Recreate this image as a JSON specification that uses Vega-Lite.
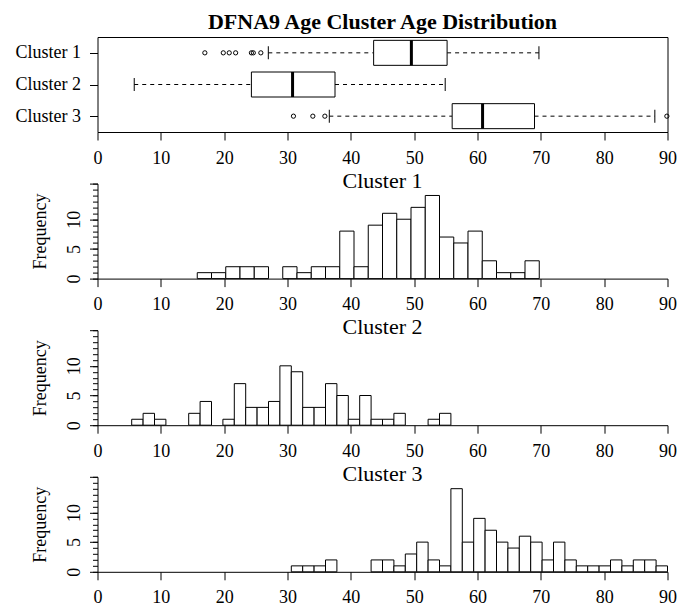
{
  "$schema": "https://vega.github.io/schema/vega-lite/v6.json",
  "padding": {"left": 14.5, "top": 10, "right": 5, "bottom": 5},
  "background": "white",
  "config": {
    "font": "Liberation Serif",
    "view": {"stroke": null},
    "axis": {"labelFont": "Liberation Serif", "titleFont": "Liberation Serif", "labelFontSize": 18, "titleFontSize": 18, "titleFontWeight": "normal", "labelColor": "black", "titleColor": "black", "domainColor": "black", "tickColor": "black", "grid": false, "tickSize": 8, "domainWidth": 1, "tickWidth": 1, "labelFlush": false, "labelOverlap": false},
    "title": {"font": "Liberation Serif", "fontSize": 22, "fontWeight": "normal", "color": "black", "anchor": "middle"}
  },
  "datasets": {
    "box": [
      {"cluster": "Cluster 1", "lo": 26.97, "q1": 43.6, "med": 49.56, "q3": 55.2, "hi": 69.7},
      {"cluster": "Cluster 2", "lo": 5.8, "q1": 24.3, "med": 30.8, "q3": 37.5, "hi": 54.9},
      {"cluster": "Cluster 3", "lo": 36.6, "q1": 56.0, "med": 60.8, "q3": 69.0, "hi": 88.0}
    ],
    "out": [
      {"cluster": "Cluster 1", "age": 16.95},
      {"cluster": "Cluster 1", "age": 19.86},
      {"cluster": "Cluster 1", "age": 20.8},
      {"cluster": "Cluster 1", "age": 21.81},
      {"cluster": "Cluster 1", "age": 24.3},
      {"cluster": "Cluster 1", "age": 24.6},
      {"cluster": "Cluster 1", "age": 25.79},
      {"cluster": "Cluster 3", "age": 30.94},
      {"cluster": "Cluster 3", "age": 34.0},
      {"cluster": "Cluster 3", "age": 35.9},
      {"cluster": "Cluster 3", "age": 89.9}
    ],
    "hist": [
      {"cluster": "Cluster 1", "start": 15.75, "end": 18.0, "count": 1},
      {"cluster": "Cluster 1", "start": 18.0, "end": 20.25, "count": 1},
      {"cluster": "Cluster 1", "start": 20.25, "end": 22.5, "count": 2},
      {"cluster": "Cluster 1", "start": 22.5, "end": 24.75, "count": 2},
      {"cluster": "Cluster 1", "start": 24.75, "end": 27.0, "count": 2},
      {"cluster": "Cluster 1", "start": 29.25, "end": 31.5, "count": 2},
      {"cluster": "Cluster 1", "start": 31.5, "end": 33.75, "count": 1},
      {"cluster": "Cluster 1", "start": 33.75, "end": 36.0, "count": 2},
      {"cluster": "Cluster 1", "start": 36.0, "end": 38.25, "count": 2},
      {"cluster": "Cluster 1", "start": 38.25, "end": 40.5, "count": 8},
      {"cluster": "Cluster 1", "start": 40.5, "end": 42.75, "count": 2},
      {"cluster": "Cluster 1", "start": 42.75, "end": 45.0, "count": 9},
      {"cluster": "Cluster 1", "start": 45.0, "end": 47.25, "count": 11},
      {"cluster": "Cluster 1", "start": 47.25, "end": 49.5, "count": 10},
      {"cluster": "Cluster 1", "start": 49.5, "end": 51.75, "count": 12},
      {"cluster": "Cluster 1", "start": 51.75, "end": 54.0, "count": 14},
      {"cluster": "Cluster 1", "start": 54.0, "end": 56.25, "count": 7},
      {"cluster": "Cluster 1", "start": 56.25, "end": 58.5, "count": 6},
      {"cluster": "Cluster 1", "start": 58.5, "end": 60.75, "count": 8},
      {"cluster": "Cluster 1", "start": 60.75, "end": 63.0, "count": 3},
      {"cluster": "Cluster 1", "start": 63.0, "end": 65.25, "count": 1},
      {"cluster": "Cluster 1", "start": 65.25, "end": 67.5, "count": 1},
      {"cluster": "Cluster 1", "start": 67.5, "end": 69.75, "count": 3},
      {"cluster": "Cluster 2", "start": 5.4, "end": 7.2, "count": 1},
      {"cluster": "Cluster 2", "start": 7.2, "end": 9.0, "count": 2},
      {"cluster": "Cluster 2", "start": 9.0, "end": 10.8, "count": 1},
      {"cluster": "Cluster 2", "start": 14.4, "end": 16.2, "count": 2},
      {"cluster": "Cluster 2", "start": 16.2, "end": 18.0, "count": 4},
      {"cluster": "Cluster 2", "start": 19.8, "end": 21.6, "count": 1},
      {"cluster": "Cluster 2", "start": 21.6, "end": 23.4, "count": 7},
      {"cluster": "Cluster 2", "start": 23.4, "end": 25.2, "count": 3},
      {"cluster": "Cluster 2", "start": 25.2, "end": 27.0, "count": 3},
      {"cluster": "Cluster 2", "start": 27.0, "end": 28.8, "count": 4},
      {"cluster": "Cluster 2", "start": 28.8, "end": 30.6, "count": 10},
      {"cluster": "Cluster 2", "start": 30.6, "end": 32.4, "count": 9},
      {"cluster": "Cluster 2", "start": 32.4, "end": 34.2, "count": 3},
      {"cluster": "Cluster 2", "start": 34.2, "end": 36.0, "count": 3},
      {"cluster": "Cluster 2", "start": 36.0, "end": 37.8, "count": 7},
      {"cluster": "Cluster 2", "start": 37.8, "end": 39.6, "count": 5},
      {"cluster": "Cluster 2", "start": 39.6, "end": 41.4, "count": 1},
      {"cluster": "Cluster 2", "start": 41.4, "end": 43.2, "count": 5},
      {"cluster": "Cluster 2", "start": 43.2, "end": 45.0, "count": 1},
      {"cluster": "Cluster 2", "start": 45.0, "end": 46.8, "count": 1},
      {"cluster": "Cluster 2", "start": 46.8, "end": 48.6, "count": 2},
      {"cluster": "Cluster 2", "start": 52.2, "end": 54.0, "count": 1},
      {"cluster": "Cluster 2", "start": 54.0, "end": 55.8, "count": 2},
      {"cluster": "Cluster 3", "start": 30.6, "end": 32.4, "count": 1},
      {"cluster": "Cluster 3", "start": 32.4, "end": 34.2, "count": 1},
      {"cluster": "Cluster 3", "start": 34.2, "end": 36.0, "count": 1},
      {"cluster": "Cluster 3", "start": 36.0, "end": 37.8, "count": 2},
      {"cluster": "Cluster 3", "start": 43.2, "end": 45.0, "count": 2},
      {"cluster": "Cluster 3", "start": 45.0, "end": 46.8, "count": 2},
      {"cluster": "Cluster 3", "start": 46.8, "end": 48.6, "count": 1},
      {"cluster": "Cluster 3", "start": 48.6, "end": 50.4, "count": 3},
      {"cluster": "Cluster 3", "start": 50.4, "end": 52.2, "count": 5},
      {"cluster": "Cluster 3", "start": 52.2, "end": 54.0, "count": 2},
      {"cluster": "Cluster 3", "start": 54.0, "end": 55.8, "count": 1},
      {"cluster": "Cluster 3", "start": 55.8, "end": 57.6, "count": 14},
      {"cluster": "Cluster 3", "start": 57.6, "end": 59.4, "count": 5},
      {"cluster": "Cluster 3", "start": 59.4, "end": 61.2, "count": 9},
      {"cluster": "Cluster 3", "start": 61.2, "end": 63.0, "count": 7},
      {"cluster": "Cluster 3", "start": 63.0, "end": 64.8, "count": 5},
      {"cluster": "Cluster 3", "start": 64.8, "end": 66.6, "count": 4},
      {"cluster": "Cluster 3", "start": 66.6, "end": 68.4, "count": 6},
      {"cluster": "Cluster 3", "start": 68.4, "end": 70.2, "count": 5},
      {"cluster": "Cluster 3", "start": 70.2, "end": 72.0, "count": 2},
      {"cluster": "Cluster 3", "start": 72.0, "end": 73.8, "count": 5},
      {"cluster": "Cluster 3", "start": 73.8, "end": 75.6, "count": 2},
      {"cluster": "Cluster 3", "start": 75.6, "end": 77.4, "count": 1},
      {"cluster": "Cluster 3", "start": 77.4, "end": 79.2, "count": 1},
      {"cluster": "Cluster 3", "start": 79.2, "end": 81.0, "count": 1},
      {"cluster": "Cluster 3", "start": 81.0, "end": 82.8, "count": 2},
      {"cluster": "Cluster 3", "start": 82.8, "end": 84.6, "count": 1},
      {"cluster": "Cluster 3", "start": 84.6, "end": 86.4, "count": 2},
      {"cluster": "Cluster 3", "start": 86.4, "end": 88.2, "count": 2},
      {"cluster": "Cluster 3", "start": 88.2, "end": 90.0, "count": 1}
    ]
  },
  "spacing": 51.6,
  "bounds": "flush",
  "vconcat": [
    {
      "width": 570,
      "height": 95,
      "title": {"text": "DFNA9 Age Cluster Age Distribution", "fontWeight": "bold", "baseline": "alphabetic", "offset": -13.6},
      "view": {"stroke": "black", "strokeWidth": 1},
      "layer": [
        {
          "data": {"name": "box"},
          "mark": {"type": "rule", "strokeDash": [4, 4], "color": "black", "strokeWidth": 1},
          "encoding": {
            "x": {"field": "lo", "type": "quantitative", "scale": {"domain": [0, 90], "nice": false, "zero": false}, "axis": {"values": [0, 10, 20, 30, 40, 50, 60, 70, 80, 90], "title": null, "labelPadding": 9}},
            "x2": {"field": "q1"},
            "y": {"field": "cluster", "type": "nominal", "scale": {"type": "point", "padding": 0.5}, "axis": {"title": null, "labelPadding": 9, "domain": false}}
          }
        },
        {
          "data": {"name": "box"},
          "mark": {"type": "rule", "strokeDash": [4, 4], "color": "black", "strokeWidth": 1},
          "encoding": {
            "x": {"field": "q3", "type": "quantitative"},
            "x2": {"field": "hi"},
            "y": {"field": "cluster", "type": "nominal"}
          }
        },
        {
          "data": {"name": "box"},
          "mark": {"type": "tick", "color": "black", "thickness": 1, "size": 13, "opacity": 1},
          "encoding": {
            "x": {"field": "lo", "type": "quantitative"},
            "y": {"field": "cluster", "type": "nominal"}
          }
        },
        {
          "data": {"name": "box"},
          "mark": {"type": "tick", "color": "black", "thickness": 1, "size": 13, "opacity": 1},
          "encoding": {
            "x": {"field": "hi", "type": "quantitative"},
            "y": {"field": "cluster", "type": "nominal"}
          }
        },
        {
          "data": {"name": "box"},
          "mark": {"type": "bar", "fill": "white", "stroke": "black", "strokeWidth": 1, "size": 25},
          "encoding": {
            "x": {"field": "q1", "type": "quantitative"},
            "x2": {"field": "q3"},
            "y": {"field": "cluster", "type": "nominal"}
          }
        },
        {
          "data": {"name": "box"},
          "mark": {"type": "tick", "color": "black", "thickness": 3, "size": 25, "opacity": 1},
          "encoding": {
            "x": {"field": "med", "type": "quantitative"},
            "y": {"field": "cluster", "type": "nominal"}
          }
        },
        {
          "data": {"name": "out"},
          "mark": {"type": "point", "shape": "circle", "filled": false, "stroke": "black", "strokeWidth": 1, "size": 18, "opacity": 1},
          "encoding": {
            "x": {"field": "age", "type": "quantitative"},
            "y": {"field": "cluster", "type": "nominal"}
          }
        }
      ]
    },
    {
      "width": 570,
      "height": 95,
      "title": {"text": "Cluster 1", "baseline": "alphabetic", "offset": -26.7},
      "data": {"name": "hist"},
      "transform": [{"filter": "datum.cluster === 'Cluster 1'"}],
      "resolve": {"axis": {"y": "independent"}},
      "layer": [
        {
          "mark": {"type": "bar", "fill": "white", "stroke": "black", "strokeWidth": 1},
          "encoding": {
            "x": {"field": "start", "type": "quantitative", "scale": {"domain": [0, 90], "nice": false, "zero": false}, "axis": {"values": [0, 10, 20, 30, 40, 50, 60, 70, 80, 90], "title": null, "labelPadding": 9}},
            "x2": {"field": "end"},
            "y": {"field": "count", "type": "quantitative", "scale": {"domain": [0, 16], "nice": false}, "axis": {"values": [0, 5, 10, 16], "labelExpr": "datum.value == 16 ? '' : datum.label", "labelAngle": -90, "labelPadding": 6, "title": "Frequency", "titlePadding": 16.5}},
            "y2": {"datum": 0}
          }
        },
        {
          "mark": {"type": "tick", "opacity": 0},
          "encoding": {
            "y": {"field": "count", "type": "quantitative", "axis": {"orient": "left", "values": [0, 1, 2, 3, 4, 5, 6, 7, 8, 9, 10, 11, 12, 13, 14, 15, 16], "labels": false, "tickSize": 5, "domain": false, "title": null}}
          }
        }
      ]
    },
    {
      "width": 570,
      "height": 95,
      "title": {"text": "Cluster 2", "baseline": "alphabetic", "offset": -26.7},
      "data": {"name": "hist"},
      "transform": [{"filter": "datum.cluster === 'Cluster 2'"}],
      "resolve": {"axis": {"y": "independent"}},
      "layer": [
        {
          "mark": {"type": "bar", "fill": "white", "stroke": "black", "strokeWidth": 1},
          "encoding": {
            "x": {"field": "start", "type": "quantitative", "scale": {"domain": [0, 90], "nice": false, "zero": false}, "axis": {"values": [0, 10, 20, 30, 40, 50, 60, 70, 80, 90], "title": null, "labelPadding": 9}},
            "x2": {"field": "end"},
            "y": {"field": "count", "type": "quantitative", "scale": {"domain": [0, 16], "nice": false}, "axis": {"values": [0, 5, 10, 16], "labelExpr": "datum.value == 16 ? '' : datum.label", "labelAngle": -90, "labelPadding": 6, "title": "Frequency", "titlePadding": 16.5}},
            "y2": {"datum": 0}
          }
        },
        {
          "mark": {"type": "tick", "opacity": 0},
          "encoding": {
            "y": {"field": "count", "type": "quantitative", "axis": {"orient": "left", "values": [0, 1, 2, 3, 4, 5, 6, 7, 8, 9, 10, 11, 12, 13, 14, 15, 16], "labels": false, "tickSize": 5, "domain": false, "title": null}}
          }
        }
      ]
    },
    {
      "width": 570,
      "height": 95,
      "title": {"text": "Cluster 3", "baseline": "alphabetic", "offset": -26.7},
      "data": {"name": "hist"},
      "transform": [{"filter": "datum.cluster === 'Cluster 3'"}],
      "resolve": {"axis": {"y": "independent"}},
      "layer": [
        {
          "mark": {"type": "bar", "fill": "white", "stroke": "black", "strokeWidth": 1},
          "encoding": {
            "x": {"field": "start", "type": "quantitative", "scale": {"domain": [0, 90], "nice": false, "zero": false}, "axis": {"values": [0, 10, 20, 30, 40, 50, 60, 70, 80, 90], "title": null, "labelPadding": 9}},
            "x2": {"field": "end"},
            "y": {"field": "count", "type": "quantitative", "scale": {"domain": [0, 16], "nice": false}, "axis": {"values": [0, 5, 10, 16], "labelExpr": "datum.value == 16 ? '' : datum.label", "labelAngle": -90, "labelPadding": 6, "title": "Frequency", "titlePadding": 16.5}},
            "y2": {"datum": 0}
          }
        },
        {
          "mark": {"type": "tick", "opacity": 0},
          "encoding": {
            "y": {"field": "count", "type": "quantitative", "axis": {"orient": "left", "values": [0, 1, 2, 3, 4, 5, 6, 7, 8, 9, 10, 11, 12, 13, 14, 15, 16], "labels": false, "tickSize": 5, "domain": false, "title": null}}
          }
        }
      ]
    }
  ]
}
